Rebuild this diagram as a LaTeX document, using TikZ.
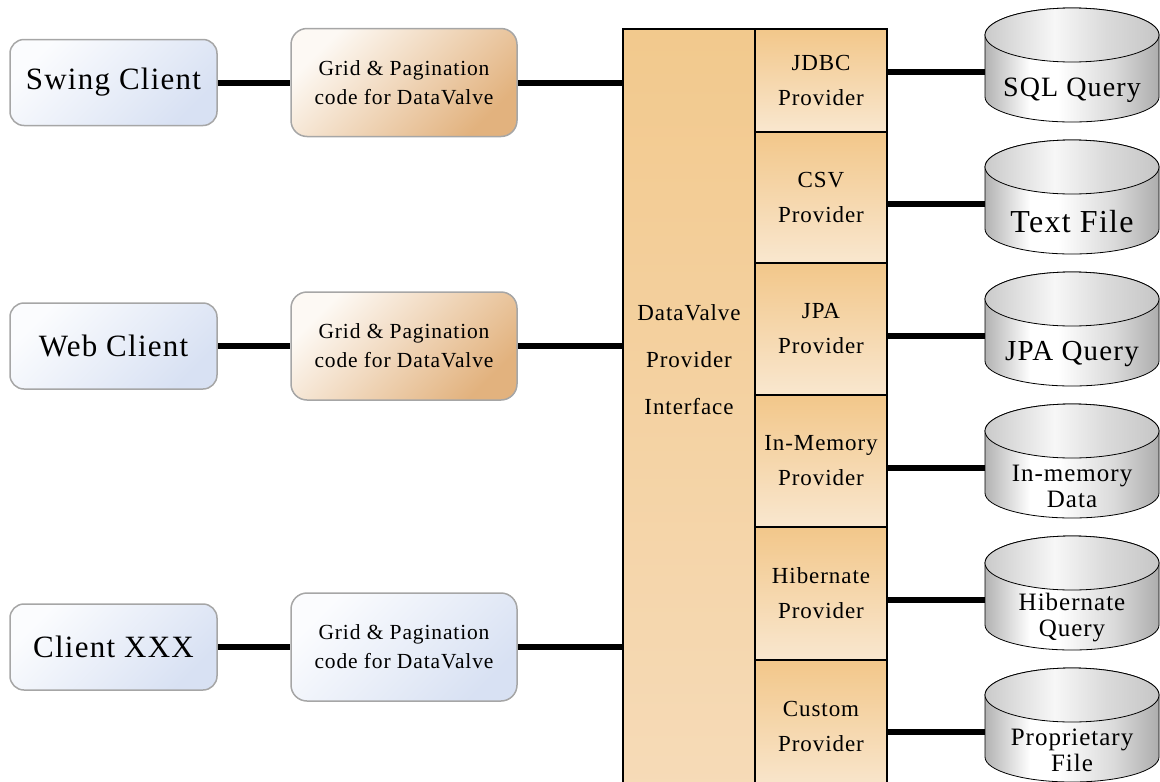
\documentclass[tikz,border=0pt]{standalone}
\usepackage{fontspec}
\setmainfont{Liberation Serif}[LetterSpace=4]
\usetikzlibrary{positioning}

\definecolor{cliTop}{HTML}{FBFCFE}
\definecolor{cliBot}{HTML}{D8E1F3}
\definecolor{gridTop}{HTML}{FDF9F4}
\definecolor{gridBot}{HTML}{E2B27E}
\definecolor{prvTop}{HTML}{F2C78A}
\definecolor{prvBot}{HTML}{F9E7CF}
\definecolor{pifTop}{HTML}{F2C98D}
\definecolor{pifBot}{HTML}{F6DBB8}
\definecolor{boxLine}{HTML}{A6A6A6}
\definecolor{cylA}{HTML}{B2B2B2}
\definecolor{cylB}{HTML}{FFFFFF}
\definecolor{cylC}{HTML}{DADADA}
\definecolor{cylD}{HTML}{ADADAD}
\definecolor{topA}{HTML}{CACACA}
\definecolor{topB}{HTML}{F7F7F7}
\definecolor{topC}{HTML}{DADADA}
\definecolor{topD}{HTML}{C6C6C6}

\pgfdeclarehorizontalshading{cylbody}{100bp}{color(0bp)=(cylA); color(25bp)=(cylA); color(38bp)=(cylB); color(46bp)=(cylB); color(62bp)=(cylC); color(75bp)=(cylD); color(100bp)=(cylD)}
\pgfdeclarehorizontalshading{cyltop}{100bp}{color(0bp)=(topA); color(25bp)=(topA); color(45bp)=(topB); color(60bp)=(topC); color(75bp)=(topD); color(100bp)=(topD)}

\begin{document}
\begin{tikzpicture}[x=1pt, y=-1pt,
		client/.style={draw=boxLine, line width=1.5pt, rounded corners=14pt, minimum width=207pt, minimum height=86pt, top color=cliTop, bottom color=cliBot, shading angle=45, font=\fontsize{31}{36}\selectfont},
		grid/.style={draw=boxLine, line width=1.5pt, rounded corners=16pt, minimum width=226pt, minimum height=108pt, top color=gridTop, bottom color=gridBot, shading angle=45, align=center, font=\fontsize{21.5}{29}\selectfont},
		gridblue/.style={grid, top color=cliTop, bottom color=cliBot, shading angle=45},
		provider/.style={draw, line width=2.5pt, minimum width=132pt, inner sep=0pt, top color=prvTop, bottom color=prvBot, align=center, font=\fontsize{23}{35}\selectfont},
		dbtext/.style={align=center, inner sep=0pt},
		link/.style={line width=6pt}
		]
		
		\useasboundingbox (0,0) rectangle (1160,782);
		\clip (0,0) rectangle (1160,782);
		
		% Draw Clients
		\node[client] (swing) at (113.5,82.5) {Swing Client};
		\node[client] (web) at (113.5,346) {Web Client};
		\node[client] (xxx) at (113.5,647) {Client XXX};
		
		% Draw Grid & Pagination Boxes
		\node[grid] (gswing) at (404,82.5) {Grid \& Pagination\\code for DataValve};
		\node[grid] (gweb) at (404,346) {Grid \& Pagination\\code for DataValve};
		\node[gridblue] (gxxx) at (404,647) {Grid \& Pagination\\code for DataValve};
		
		% Draw Provider Interface
		\node[draw, line width=2.5pt, minimum width=132pt, minimum height=771pt, top color=pifTop, bottom color=pifBot] (pif) at (689,414.5) {};
		\node[align=center, font=\fontsize{23}{47}\selectfont] (piftext) at (689,360) {DataValve\\Provider\\Interface};
		
		% Draw Providers
		\node[provider, minimum height=103pt] (jdbc) at (821,80.5) {JDBC\\Provider};
		\node[provider, minimum height=131pt] (csv) at (821,197.5) {CSV\\Provider};
		\node[provider, minimum height=132pt] (jpa) at (821,329) {JPA\\Provider};
		\node[provider, minimum height=132pt] (inmem) at (821,461) {In-Memory\\Provider};
		\node[provider, minimum height=133pt] (hib) at (821,593.5) {Hibernate\\Provider};
		\node[provider, minimum height=132pt] (custom) at (821,726) {Custom\\Provider};
		
		% Draw Data Stores
		\foreach \t [count=\i] in {8,140,272,404,536,668} {
			\shade[shading=cylbody, draw, line width=0.8pt] (985,\t+27) -- (985,\t+89) arc[start angle=180, end angle=0, x radius=87, y radius=25] -- (1159,\t+27) arc[start angle=0, end angle=-180, x radius=87, y radius=27] -- cycle;
			\shade[shading=cyltop, draw, line width=0.8pt] (1072,\t+27) ellipse[x radius=87, y radius=27];
			\coordinate (cyl\i) at (985,\t+64);
		}
		\node[dbtext, font=\fontsize{28}{30}\selectfont] (sql) at (1072,90) {SQL Query};
		\node[dbtext, font=\fontsize{32}{34}\selectfont] (txt) at (1072,222) {Text File};
		\node[dbtext, font=\fontsize{29}{30}\selectfont] (jpaq) at (1072,354) {JPA Query};
		\node[dbtext, font=\fontsize{25}{26}\selectfont] (memd) at (1072,486) {In-memory\\Data};
		\node[dbtext, font=\fontsize{25}{26}\selectfont] (hibq) at (1072,618) {Hibernate\\Query};
		\node[dbtext, font=\fontsize{25}{26}\selectfont] (prop) at (1072,750) {Proprietary\\File};
		
		% Add Connectors
		\draw[link] (swing) -- (gswing);
		\draw[link] (web) -- (gweb);
		\draw[link] (xxx) -- (gxxx);
		\foreach \g in {gswing, gweb, gxxx} {
			\draw[link] (\g) -- (\g -| pif.west);
		}
		\foreach \p [count=\i] in {jdbc, csv, jpa, inmem, hib, custom} {
			\draw[link] (\p.east |- cyl\i) -- (cyl\i);
		}
		
	\end{tikzpicture}
\end{document}
